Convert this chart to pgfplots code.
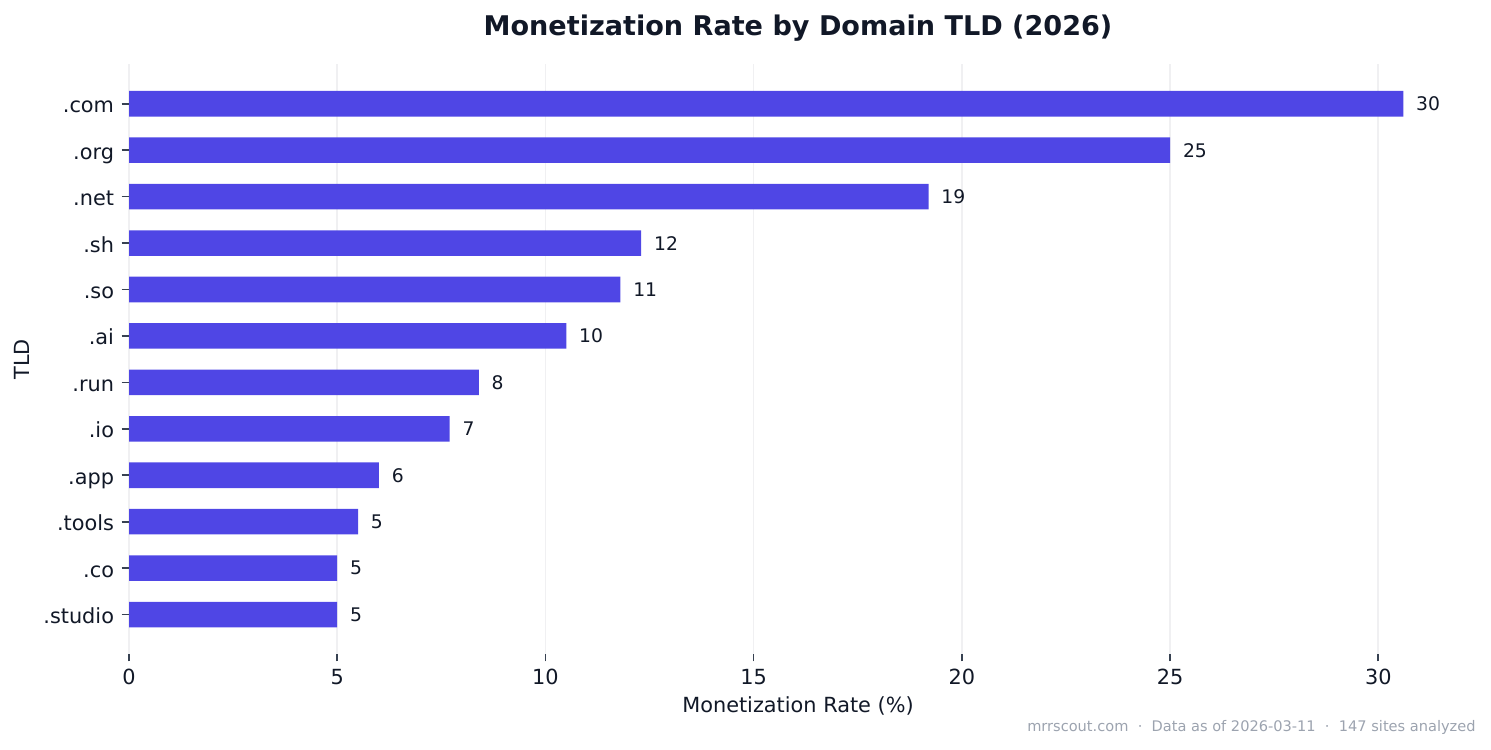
\documentclass[border=0pt]{standalone}
\usepackage{fontspec}
\setmainfont{DejaVu Sans}
\usepackage{pgfplots}
\usepackage{pgfplotstable}
\pgfplotsset{compat=1.18}

\definecolor{barcol}{HTML}{4F46E5}
\definecolor{txtcol}{HTML}{111827}
\definecolor{tickcol}{HTML}{374151}
\definecolor{gridcol}{HTML}{F0F0F2}
\definecolor{footcol}{HTML}{9CA3AF}

% rate per TLD, bottom (.studio) to top (.com)
\pgfplotstableread{
idx val lab
0  5.0  5
1  5.0  5
2  5.5  5
3  6.0  6
4  7.7  7
5  8.4  8
6  10.5 10
7  11.8 11
8  12.3 12
9  19.2 19
10 25.0 25
11 30.6 30
}\tlddata

\begin{document}
\begin{tikzpicture}
  % page: 1491 x 749 px at 0.48pt per px
  \path[use as bounding box] (0,0) rectangle (715.68pt,-359.52pt);
  \begin{axis}[
    at={(61.92pt,-313.92pt)}, anchor=south west,
    scale only axis,
    width=642.24pt, height=283.06pt,
    xbar, bar width=0.55,
    xmin=0, xmax=32.13,
    ymin=-0.85, ymax=11.85,
    axis line style={draw=none},
    xtick={0,5,...,30},
    ytick={0,...,11},
    yticklabels={.studio,.co,.tools,.app,.io,.run,.ai,.so,.sh,.net,.org,.com},
    xtick pos=lower, ytick pos=left,
    tick align=outside,
    major tick length=3.5pt,
    tick style={color=tickcol, line width=0.8pt},
    xmajorgrids,
    major grid style={color=gridcol, line width=0.8pt},
    /pgf/number format/assume math mode=true,
    ticklabel style={font=\fontsize{10}{12}\selectfont, text=txtcol, inner sep=0pt},
    xticklabel style={yshift=-3.5pt},
    yticklabel style={anchor=base east, xshift=-3.5pt, yshift=-4.3pt},
    every axis title shift=0pt,
    title={Monetization Rate by Domain TLD (2026)},
    title style={at={(0.5,1.0492)}, anchor=base,
      font=\fontsize{13}{16}\bfseries, text=txtcol},
    xlabel={Monetization Rate (\%)},
    xlabel style={at={(0.5,-0.1)}, anchor=base,
      font=\fontsize{10}{12}\selectfont, text=txtcol},
    ylabel={TLD},
    ylabel style={at={(-0.074,0.5)}, anchor=base,
      font=\fontsize{10}{12}\selectfont, text=txtcol},
    point meta=explicit symbolic,
    nodes near coords,
    every node near coord/.append style={anchor=west, inner sep=0pt,
      xshift=6pt, font=\fontsize{9}{11}\selectfont, text=txtcol},
  ]
    \addplot[fill=barcol, draw=none] table[x=val, y=idx, meta=lab] {\tlddata};
  \end{axis}
  \node[anchor=base east, font=\fontsize{7}{9}\selectfont, text=footcol,
    inner sep=0pt] at (708.5pt,-351pt)
    {mrrscout.com\ \ ·\ \ Data as of 2026-03-11\ \ ·\ \ 147 sites analyzed};
\end{tikzpicture}
\end{document}
